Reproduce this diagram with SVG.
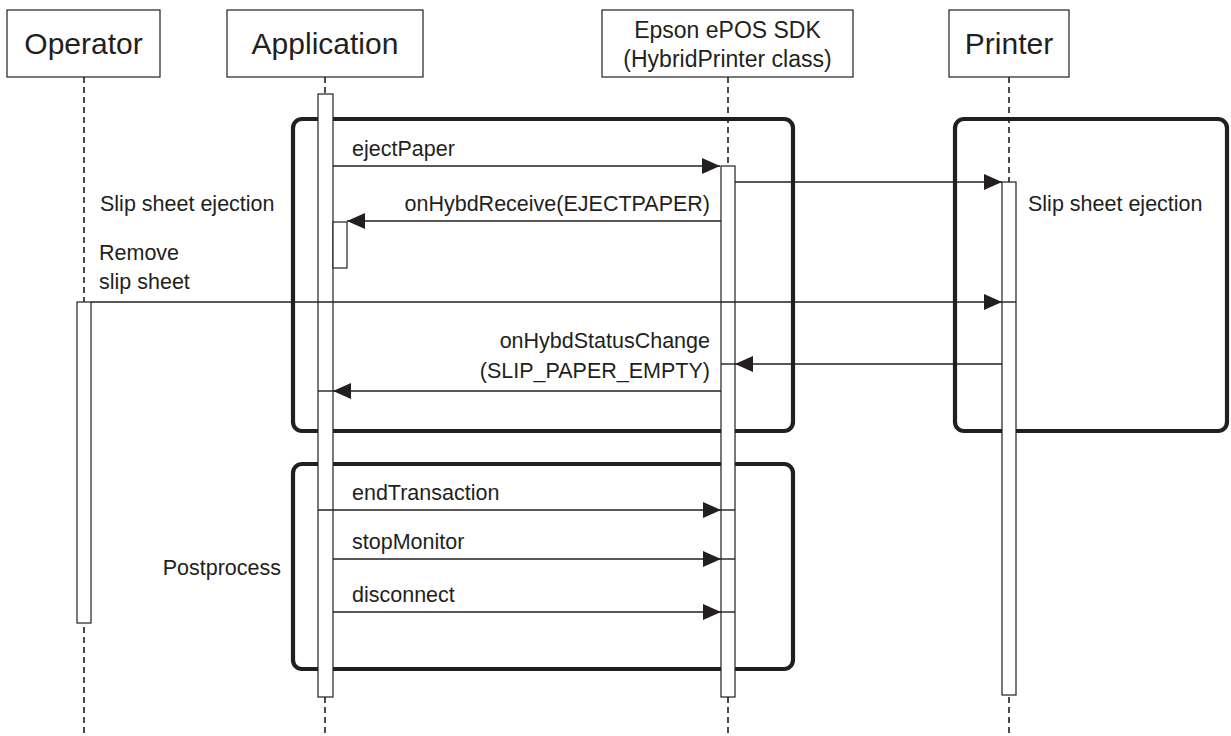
<svg xmlns="http://www.w3.org/2000/svg" width="1231" height="736" viewBox="0 0 1231 736">
<defs>
<style>
text{font-family:"Liberation Sans",Arial,sans-serif;fill:#231f20}
.hdr{font-size:30px;text-anchor:middle}
.hdr2{font-size:23px;text-anchor:middle}
.lbl{font-size:21.5px}
.r{text-anchor:end}
.box{fill:#fff;stroke:#231f20;stroke-width:1.2}
.life{stroke:#231f20;stroke-width:1.6;stroke-dasharray:6 4;fill:none}
.bar{fill:#fff;stroke:#231f20;stroke-width:1.2}
.frame{fill:none;stroke:#231f20;stroke-width:4.2}
.msg{stroke:#231f20;stroke-width:1.6;fill:none}
.tick{stroke:#231f20;stroke-width:1.4;fill:none}
</style>
<marker id="ah" markerUnits="userSpaceOnUse" markerWidth="19" markerHeight="17" refX="18" refY="8" orient="auto">
<path d="M0,0 L18,8 L0,16 z" fill="#231f20"/>
</marker>
</defs>
<rect width="1231" height="736" fill="#fff"/>

<g id="lifelines">
<line class="life" x1="84" y1="77" x2="84" y2="736"/>
<line class="life" x1="325" y1="77" x2="325" y2="736"/>
<line class="life" x1="728" y1="77" x2="728" y2="736"/>
<line class="life" x1="1009" y1="77" x2="1009" y2="736"/>
</g>

<g id="frames">
<rect class="frame" x="293" y="119" width="500" height="312" rx="9"/>
<rect class="frame" x="955" y="119" width="272" height="312" rx="9"/>
<rect class="frame" x="293" y="464" width="500" height="205" rx="9"/>
</g>

<g id="operator">
<rect class="box" x="7" y="10" width="153" height="67"/>
<text class="hdr" x="83.5" y="54">Operator</text>
<rect class="bar" x="77" y="302" width="14" height="321"/>
</g>

<g id="application">
<rect class="box" x="227" y="10" width="196" height="67"/>
<text class="hdr" x="325" y="54">Application</text>
<rect class="bar" x="318" y="94" width="15" height="603"/>
<rect class="bar" x="333" y="222" width="14" height="46"/>
</g>

<g id="sdk">
<rect class="box" x="602" y="10" width="251" height="67"/>
<text class="hdr2" x="727.5" y="38">Epson ePOS SDK</text>
<text class="hdr2" x="727.5" y="67">(HybridPrinter class)</text>
<rect class="bar" x="721" y="166" width="14" height="531"/>
</g>

<g id="printer">
<rect class="box" x="949" y="10" width="120" height="67"/>
<text class="hdr" x="1009" y="54">Printer</text>
<rect class="bar" x="1002" y="182" width="14" height="513"/>
</g>

<g id="connectors">
<line class="msg" x1="333" y1="166" x2="720" y2="166" marker-end="url(#ah)"/>
<line class="msg" x1="735" y1="182" x2="1002" y2="182" marker-end="url(#ah)"/>
<line class="msg" x1="721" y1="221" x2="347" y2="221" marker-end="url(#ah)"/>
<line class="msg" x1="91" y1="302" x2="1002" y2="302" marker-end="url(#ah)"/>
<line class="tick" x1="1002" y1="302" x2="1016" y2="302"/>
<line class="msg" x1="1002" y1="364" x2="735" y2="364" marker-end="url(#ah)"/>
<line class="tick" x1="721" y1="364" x2="735" y2="364"/>
<line class="msg" x1="721" y1="391" x2="333" y2="391" marker-end="url(#ah)"/>
<line class="tick" x1="318" y1="391" x2="333" y2="391"/>
<line class="msg" x1="318" y1="510" x2="721" y2="510" marker-end="url(#ah)"/>
<line class="tick" x1="721" y1="510" x2="735" y2="510"/>
<line class="msg" x1="333" y1="559" x2="721" y2="559" marker-end="url(#ah)"/>
<line class="tick" x1="721" y1="559" x2="735" y2="559"/>
<line class="msg" x1="333" y1="612" x2="721" y2="612" marker-end="url(#ah)"/>
<line class="tick" x1="721" y1="612" x2="735" y2="612"/>
</g>

<g id="labels">
<text class="lbl" x="352" y="156">ejectPaper</text>
<text class="lbl r" x="710" y="211">onHybdReceive(EJECTPAPER)</text>
<text class="lbl" x="100" y="211">Slip sheet ejection</text>
<text class="lbl" x="1028" y="211">Slip sheet ejection</text>
<text class="lbl" x="99" y="260">Remove</text>
<text class="lbl" x="99" y="289">slip sheet</text>
<text class="lbl r" x="710" y="348">onHybdStatusChange</text>
<text class="lbl r" x="710" y="378">(SLIP_PAPER_EMPTY)</text>
<text class="lbl" x="352" y="500">endTransaction</text>
<text class="lbl" x="352" y="549">stopMonitor</text>
<text class="lbl" x="352" y="602">disconnect</text>
<text class="lbl r" x="281" y="575">Postprocess</text>
</g>
</svg>
